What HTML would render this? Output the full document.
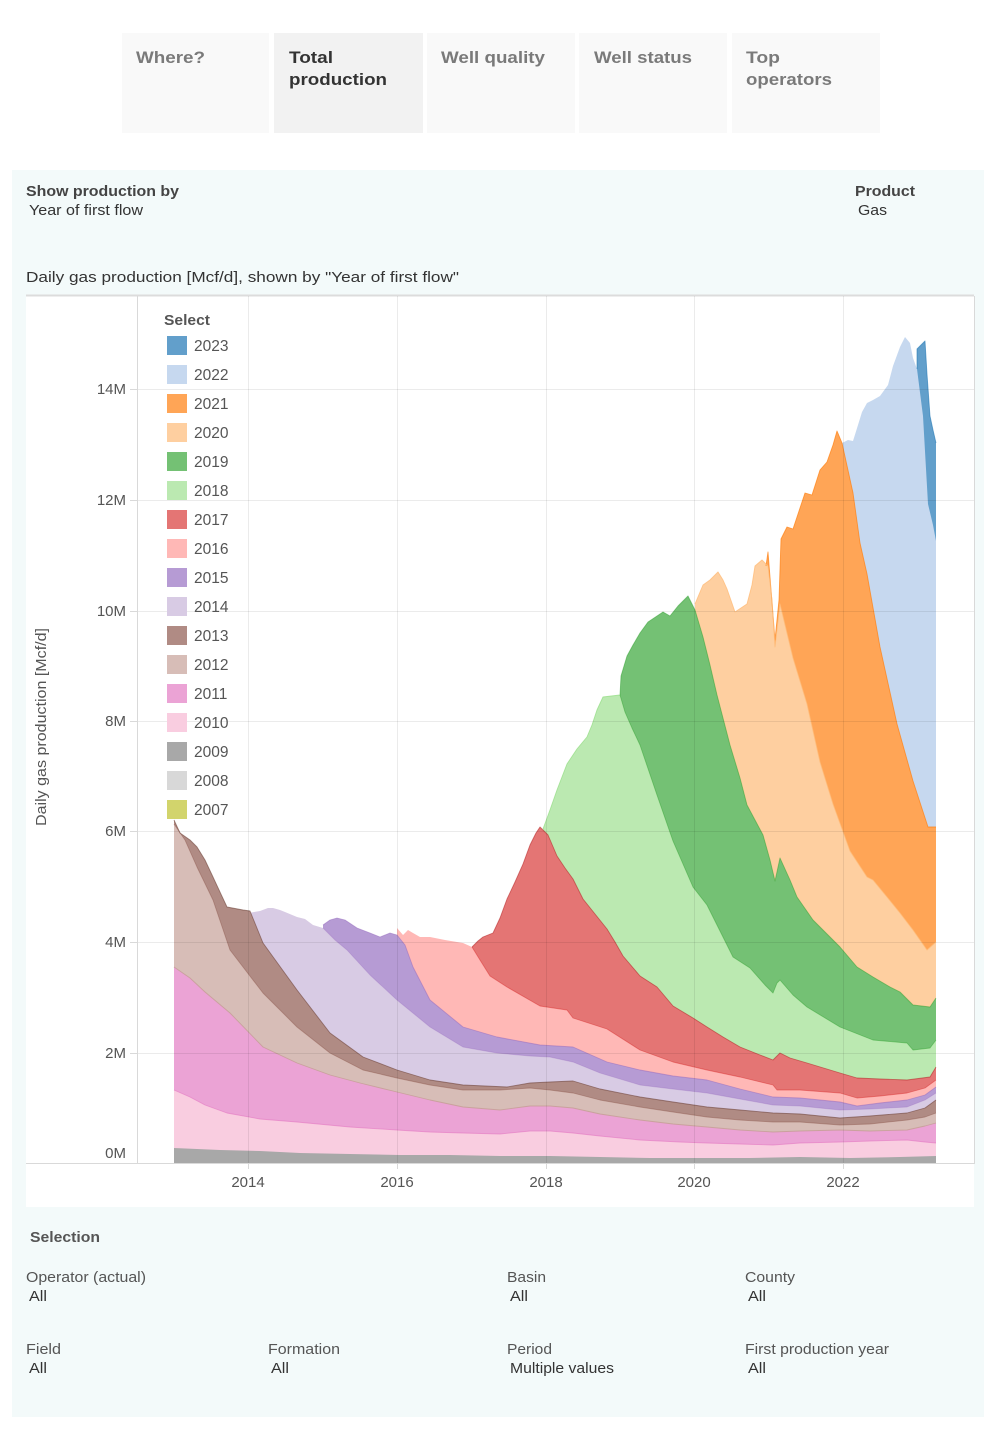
<!DOCTYPE html>
<html><head><meta charset="utf-8">
<style>
html,body{margin:0;padding:0;background:#fff;}
body{width:1000px;height:1435px;overflow:hidden;}
svg{display:block;}
text{font-family:"Liberation Sans",Arial,sans-serif;}
</style></head>
<body>
<svg width="1000" height="1435" viewBox="0 0 1000 1435" xmlns="http://www.w3.org/2000/svg">
<!-- tabs -->
<rect x="122" y="33" width="147" height="100" fill="#f9f9f9"/>
<rect x="274" y="33" width="149" height="100" fill="#f2f2f2"/>
<rect x="427" y="33" width="148" height="100" fill="#f9f9f9"/>
<rect x="579" y="33" width="148" height="100" fill="#f9f9f9"/>
<rect x="732" y="33" width="148" height="100" fill="#f9f9f9"/>
<g font-size="17" font-weight="bold">
<text x="136" y="63" fill="#7a7a7a" textLength="69" lengthAdjust="spacingAndGlyphs">Where?</text>
<text x="289" y="63" fill="#333" textLength="44" lengthAdjust="spacingAndGlyphs">Total</text>
<text x="289" y="85" fill="#333" textLength="98" lengthAdjust="spacingAndGlyphs">production</text>
<text x="441" y="63" fill="#7a7a7a" textLength="104" lengthAdjust="spacingAndGlyphs">Well quality</text>
<text x="594" y="63" fill="#7a7a7a" textLength="98" lengthAdjust="spacingAndGlyphs">Well status</text>
<text x="746" y="63" fill="#7a7a7a" textLength="34" lengthAdjust="spacingAndGlyphs">Top</text>
<text x="746" y="85" fill="#7a7a7a" textLength="86" lengthAdjust="spacingAndGlyphs">operators</text>
</g>

<!-- panel -->
<rect x="12" y="170" width="972" height="1247" fill="#f3fafa"/>
<g font-size="14.5">
<text x="26" y="196" fill="#444" font-weight="bold" textLength="153" lengthAdjust="spacingAndGlyphs">Show production by</text>
<text x="29" y="215" fill="#333" textLength="114" lengthAdjust="spacingAndGlyphs">Year of first flow</text>
<text x="855" y="196" fill="#444" font-weight="bold" textLength="60" lengthAdjust="spacingAndGlyphs">Product</text>
<text x="858" y="215" fill="#333" textLength="29" lengthAdjust="spacingAndGlyphs">Gas</text>
<text x="26" y="282" fill="#333" textLength="433" lengthAdjust="spacingAndGlyphs">Daily gas production [Mcf/d], shown by "Year of first flow"</text>
</g>

<!-- chart box -->
<rect x="26" y="295" width="948" height="912" fill="#fff"/>
<line x1="26" y1="295.5" x2="974" y2="295.5" stroke="#dcdcdc" stroke-width="2"/>

<!-- areas: painted top cumulative first -->
<g stroke="none">
<polygon fill="#629fcb" points="917,349 925,341 927,374 930,416 933,430 936,443 936,1163 917,1163"/>
<polygon fill="#c6d8ef" points="838,433 842,443 848,440 853,441 858,425 862,412 867,403 873,400 880,396 888,385 893,366 900,347 905,337 910,343 913,358 917,369 923,416 928,504 933,525 936,541 936,1163 838,1163"/>
<polygon fill="#ffa556" points="766,566 768,552 775,640 779,600 781,539 787,527 793,529 805,493 812,495 820,470 827,462 833,445 837,431 842,443 853,493 860,543 867,574 880,647 897,724 913,781 928,827 936,827 936,1163 766,1163"/>
<polygon fill="#fecfa0" points="695,604 703,585 710,580 718,572 723,580 727,589 735,612 741,608 747,604 752,585 755,566 762,560 768,566 772,600 775,647 780,604 793,658 807,704 820,762 833,804 850,851 867,877 873,880 887,897 900,913 913,930 927,950 936,942 936,1163 695,1163"/>
<polygon fill="#74c174" points="620,695 621,676 627,656 633,645 640,633 648,622 657,616 663,612 670,616 678,606 688,596 695,610 703,637 710,665 717,695 730,745 740,778 747,805 763,835 770,860 775,881 780,858 790,880 797,897 813,920 827,934 840,947 857,967 873,977 890,987 900,992 913,1005 930,1007 936,998 936,1163 620,1163"/>
<polygon fill="#bbe9b1" points="543,829 550,810 557,790 567,764 577,749 587,737 592,725 597,710 603,697 620,695 625,712 632,728 640,745 657,795 673,841 693,887 707,905 723,937 733,957 750,968 765,985 773,993 777,983 780,980 793,995 807,1007 840,1027 873,1040 907,1043 913,1050 930,1048 936,1040 936,1163 543,1163"/>
<polygon fill="#e47574" points="472,947 478,941 483,937 493,933 500,918 507,899 515,882 523,864 530,845 536,833 540,827 548,835 557,856 565,868 573,879 583,899 595,914 607,929 615,942 623,956 640,976 657,987 673,1006 693,1018 707,1027 723,1037 740,1047 760,1055 773,1060 780,1053 790,1058 807,1063 840,1073 857,1078 880,1079 907,1080 930,1077 936,1067 936,1163 472,1163"/>
<polygon fill="#ffb8b6" points="397,928 403,935 408,930 413,933 420,937 430,937 445,940 463,943 472,947 480,960 490,976 507,987 540,1006 567,1010 573,1018 607,1029 640,1050 673,1062 707,1070 740,1077 773,1085 777,1090 800,1090 840,1093 857,1098 880,1096 907,1093 925,1088 936,1080 936,1163 397,1163"/>
<polygon fill="#b69bd4" points="323,925 330,920 337,918 345,920 357,928 370,933 380,937 390,933 397,935 405,945 413,967 430,1000 463,1027 497,1037 540,1045 573,1047 607,1062 640,1070 673,1076 707,1080 740,1089 773,1097 800,1098 840,1102 857,1106 880,1103 907,1100 925,1095 936,1087 936,1163 323,1163"/>
<polygon fill="#d8cbe4" points="248,913 260,911 268,908 273,908 280,910 285,912 297,917 305,919 313,925 323,928 335,940 347,950 370,975 397,1000 430,1027 463,1047 497,1053 530,1056 550,1057 573,1062 600,1073 640,1085 673,1089 707,1093 740,1099 773,1105 800,1106 840,1110 870,1109 907,1107 925,1100 936,1093 936,1163 248,1163"/>
<polygon fill="#b08b84" points="174,820 180,833 190,840 197,847 205,860 213,877 227,907 243,910 250,911 263,943 297,990 330,1033 363,1057 397,1070 430,1080 463,1085 507,1087 530,1083 550,1082 573,1081 600,1089 640,1097 673,1102 707,1107 740,1110 773,1113 800,1114 840,1118 870,1116 907,1113 925,1108 936,1100 936,1163 174,1163"/>
<polygon fill="#d7bdb7" points="174,824 185,840 197,867 213,900 230,950 263,993 297,1027 330,1053 363,1070 397,1078 430,1085 463,1090 500,1090 530,1088 550,1090 573,1093 600,1100 640,1107 673,1112 707,1117 740,1120 773,1122 800,1122 840,1125 870,1124 907,1120 925,1117 936,1113 936,1163 174,1163"/>
<polygon fill="#eba3d5" points="174,967 190,978 205,992 230,1013 263,1047 297,1063 330,1075 360,1083 397,1092 430,1100 463,1107 500,1110 530,1106 550,1106 573,1108 600,1114 640,1120 673,1124 707,1127 740,1130 773,1132 800,1131 840,1130 870,1131 907,1130 925,1126 936,1123 936,1163 174,1163"/>
<polygon fill="#f9cde0" points="174,1090 190,1097 205,1105 227,1113 260,1119 297,1122 350,1127 397,1130 430,1132 463,1133 500,1134 530,1131 550,1131 573,1133 600,1136 640,1140 680,1142 707,1143 740,1144 773,1145 800,1143 840,1142 870,1141 907,1140 925,1142 936,1143 936,1163 174,1163"/>
<polygon fill="#a8a8a8" points="174,1148 220,1150 260,1151 300,1153 350,1154 400,1155 450,1155 500,1156 550,1156 600,1157 650,1158 700,1158 750,1158 800,1157 850,1158 900,1157 936,1156 936,1163 174,1163"/>
</g>

<!-- outlines -->
<g fill="none" stroke-width="0.9" stroke-linejoin="round">
<polyline stroke="#1f77b4" stroke-opacity="0.6" points="917,369 917,349 925,341 927,374 930,416 933,430 936,443"/>
<polyline stroke="#ff7f0e" stroke-opacity="0.7" points="766,566 768,552 775,640 779,600 781,539 787,527 793,529 805,493 812,495 820,470 827,462 833,445 837,431 842,443 853,493 860,543 867,574 880,647 897,724 913,781 928,827 936,827"/>
<polyline stroke="#ffbb78" stroke-opacity="0.8" points="695,604 703,585 710,580 718,572 723,580 727,589 735,612 741,608 747,604 752,585 755,566 762,560 768,566 772,600 775,647 780,604 793,658 807,704 820,762 833,804 850,851 867,877 873,880 887,897 900,913 913,930 927,950 936,942"/>
<polyline stroke="#2ca02c" stroke-opacity="0.5" points="620,695 621,676 627,656 633,645 640,633 648,622 657,616 663,612 670,616 678,606 688,596 695,610 703,637 710,665 717,695 730,745 740,778 747,805 763,835 770,860 775,881 780,858 790,880 797,897 813,920 827,934 840,947 857,967 873,977 890,987 900,992 913,1005 930,1007 936,998"/>
<polyline stroke="#98df8a" stroke-opacity="0.8" points="543,829 550,810 557,790 567,764 577,749 587,737 592,725 597,710 603,697 620,695"/>
<polyline stroke="#2ca02c" stroke-opacity="0.45" points="620,695 625,712 632,728 640,745 657,795 673,841 693,887 707,905 723,937 733,957 750,968 765,985 773,993 777,983 780,980 793,995 807,1007 840,1027 873,1040 907,1043 913,1050 930,1048 936,1040"/>
<polyline stroke="#b21f20" stroke-opacity="0.55" points="472,947 478,941 483,937 493,933 500,918 507,899 515,882 523,864 530,845 536,833 540,827 548,835 557,856 565,868 573,879 583,899 595,914 607,929 615,942 623,956 640,976 657,987 673,1006 693,1018 707,1027 723,1037 740,1047 760,1055 773,1060 780,1053 790,1058 807,1063 840,1073 857,1078 880,1079 907,1080 930,1077 936,1067"/>
<polyline stroke="#d62728" stroke-opacity="0.45" points="472,947 480,960 490,976 507,987 540,1006 567,1010 573,1018 607,1029 640,1050 673,1062 707,1070 740,1077 773,1085 777,1090 800,1090 840,1093 857,1098 880,1096 907,1093 925,1088 936,1080"/>
<polyline stroke="#9467bd" stroke-opacity="0.5" points="323,925 330,920 337,918 345,920 357,928 370,933 380,937 390,933 397,935 405,945 413,967 430,1000 463,1027 497,1037 540,1045 573,1047 607,1062 640,1070 673,1076 707,1080 740,1089 773,1097 800,1098 840,1102 857,1106 880,1103 907,1100 925,1095 936,1087"/>
<polyline stroke="#9467bd" stroke-opacity="0.3" points="323,928 335,940 347,950 370,975 397,1000 430,1027 463,1047 497,1053 530,1056 550,1057 573,1062 600,1073 640,1085 673,1089 707,1093 740,1099 773,1105 800,1106 840,1110 870,1109 907,1107 925,1100 936,1093"/>
<polyline stroke="#6e4238" stroke-opacity="0.6" points="174,820 180,833 190,840 197,847 205,860 213,877 227,907 243,910 250,911 263,943 297,990 330,1033 363,1057 397,1070 430,1080 463,1085 507,1087 530,1083 550,1082 573,1081 600,1089 640,1097 673,1102 707,1107 740,1110 773,1113 800,1114 840,1118 870,1116 907,1113 925,1108 936,1100"/>
<polyline stroke="#8c564b" stroke-opacity="0.45" points="174,824 185,840 197,867 213,900 230,950 263,993 297,1027 330,1053 363,1070 397,1078 430,1085 463,1090 500,1090 530,1088 550,1090 573,1093 600,1100 640,1107 673,1112 707,1117 740,1120 773,1122 800,1122 840,1125 870,1124 907,1120 925,1117 936,1113"/>
<polyline stroke="#c49c94" stroke-opacity="0.8" points="174,967 190,978 205,992 230,1013 263,1047 297,1063 330,1075 360,1083 397,1092 430,1100 463,1107 500,1110 530,1106 550,1106 573,1108 600,1114 640,1120 673,1124 707,1127 740,1130 773,1132 800,1131 840,1130 870,1131 907,1130 925,1126 936,1123"/>
<polyline stroke="#e377c2" stroke-opacity="0.6" points="174,1090 190,1097 205,1105 227,1113 260,1119 297,1122 350,1127 397,1130 430,1132 463,1133 500,1134 530,1131 550,1131 573,1133 600,1136 640,1140 680,1142 707,1143 740,1144 773,1145 800,1143 840,1142 870,1141 907,1140 925,1142 936,1143"/>
</g>

<!-- gridlines -->
<g stroke="#000" stroke-opacity="0.08" stroke-width="1">
<line x1="137" y1="389.5" x2="974" y2="389.5"/>
<line x1="137" y1="500.5" x2="974" y2="500.5"/>
<line x1="137" y1="611.5" x2="974" y2="611.5"/>
<line x1="137" y1="721.5" x2="974" y2="721.5"/>
<line x1="137" y1="831.5" x2="974" y2="831.5"/>
<line x1="137" y1="942.5" x2="974" y2="942.5"/>
<line x1="137" y1="1053.5" x2="974" y2="1053.5"/>
<line x1="248.5" y1="296" x2="248.5" y2="1163"/>
<line x1="397.5" y1="296" x2="397.5" y2="1163"/>
<line x1="546.5" y1="296" x2="546.5" y2="1163"/>
<line x1="694.5" y1="296" x2="694.5" y2="1163"/>
<line x1="843.5" y1="296" x2="843.5" y2="1163"/>
</g>
<!-- axes -->
<g stroke="#d9d9d9" stroke-width="1">
<line x1="137.5" y1="296" x2="137.5" y2="1163"/>
<line x1="974.5" y1="296" x2="974.5" y2="1163"/>
<line x1="26" y1="1163.5" x2="975" y2="1163.5"/>
<line x1="130" y1="389.5" x2="137" y2="389.5"/>
<line x1="130" y1="500.5" x2="137" y2="500.5"/>
<line x1="130" y1="611.5" x2="137" y2="611.5"/>
<line x1="130" y1="721.5" x2="137" y2="721.5"/>
<line x1="130" y1="831.5" x2="137" y2="831.5"/>
<line x1="130" y1="942.5" x2="137" y2="942.5"/>
<line x1="130" y1="1053.5" x2="137" y2="1053.5"/>
<line x1="248.5" y1="1164" x2="248.5" y2="1169"/>
<line x1="397.5" y1="1164" x2="397.5" y2="1169"/>
<line x1="546.5" y1="1164" x2="546.5" y2="1169"/>
<line x1="694.5" y1="1164" x2="694.5" y2="1169"/>
<line x1="843.5" y1="1164" x2="843.5" y2="1169"/>
</g>

<!-- y labels -->
<g font-size="15" fill="#555" text-anchor="end">
<text x="126" y="394">14M</text>
<text x="126" y="505">12M</text>
<text x="126" y="616">10M</text>
<text x="126" y="726">8M</text>
<text x="126" y="836">6M</text>
<text x="126" y="947">4M</text>
<text x="126" y="1058">2M</text>
<text x="126" y="1158">0M</text>
</g>
<text transform="translate(46,727) rotate(-90)" font-size="14.5" fill="#555" text-anchor="middle" textLength="198" lengthAdjust="spacingAndGlyphs">Daily gas production [Mcf/d]</text>
<!-- x labels -->
<g font-size="15" fill="#555" text-anchor="middle">
<text x="248" y="1187">2014</text>
<text x="397" y="1187">2016</text>
<text x="546" y="1187">2018</text>
<text x="694" y="1187">2020</text>
<text x="843" y="1187">2022</text>
</g>

<!-- legend -->
<text x="164" y="325" font-size="14.5" font-weight="bold" fill="#555" textLength="46" lengthAdjust="spacingAndGlyphs">Select</text>
<g>
<rect x="167" y="336" width="20" height="19" fill="#629fcb"/>
<rect x="167" y="365" width="20" height="19" fill="#c6d8ef"/>
<rect x="167" y="394" width="20" height="19" fill="#ffa556"/>
<rect x="167" y="423" width="20" height="19" fill="#fecfa0"/>
<rect x="167" y="452" width="20" height="19" fill="#74c174"/>
<rect x="167" y="481" width="20" height="19" fill="#bbe9b1"/>
<rect x="167" y="510" width="20" height="19" fill="#e47574"/>
<rect x="167" y="539" width="20" height="19" fill="#ffb8b6"/>
<rect x="167" y="568" width="20" height="19" fill="#b69bd4"/>
<rect x="167" y="597" width="20" height="19" fill="#d8cbe4"/>
<rect x="167" y="626" width="20" height="19" fill="#b08b84"/>
<rect x="167" y="655" width="20" height="19" fill="#d7bdb7"/>
<rect x="167" y="684" width="20" height="19" fill="#eba3d5"/>
<rect x="167" y="713" width="20" height="19" fill="#f9cde0"/>
<rect x="167" y="742" width="20" height="19" fill="#a8a8a8"/>
<rect x="167" y="771" width="20" height="19" fill="#d8d8d8"/>
<rect x="167" y="800" width="20" height="19" fill="#d2d46c"/>
</g>
<g font-size="15.5" fill="#555">
<text x="194" y="351">2023</text>
<text x="194" y="380">2022</text>
<text x="194" y="409">2021</text>
<text x="194" y="438">2020</text>
<text x="194" y="467">2019</text>
<text x="194" y="496">2018</text>
<text x="194" y="525">2017</text>
<text x="194" y="554">2016</text>
<text x="194" y="583">2015</text>
<text x="194" y="612">2014</text>
<text x="194" y="641">2013</text>
<text x="194" y="670">2012</text>
<text x="194" y="699">2011</text>
<text x="194" y="728">2010</text>
<text x="194" y="757">2009</text>
<text x="194" y="786">2008</text>
<text x="194" y="815">2007</text>
</g>

<!-- selection -->
<text x="30" y="1242" font-size="14.5" font-weight="bold" fill="#555" textLength="70" lengthAdjust="spacingAndGlyphs">Selection</text>
<g font-size="14.5" fill="#555">
<text x="26" y="1282" textLength="120" lengthAdjust="spacingAndGlyphs">Operator (actual)</text>
<text x="507" y="1282" textLength="39" lengthAdjust="spacingAndGlyphs">Basin</text>
<text x="745" y="1282" textLength="50" lengthAdjust="spacingAndGlyphs">County</text>
<text x="26" y="1354" textLength="35" lengthAdjust="spacingAndGlyphs">Field</text>
<text x="268" y="1354" textLength="72" lengthAdjust="spacingAndGlyphs">Formation</text>
<text x="507" y="1354" textLength="45" lengthAdjust="spacingAndGlyphs">Period</text>
<text x="745" y="1354" textLength="144" lengthAdjust="spacingAndGlyphs">First production year</text>
</g>
<g font-size="14.5" fill="#333">
<text x="29" y="1301" textLength="18" lengthAdjust="spacingAndGlyphs">All</text>
<text x="510" y="1301" textLength="18" lengthAdjust="spacingAndGlyphs">All</text>
<text x="748" y="1301" textLength="18" lengthAdjust="spacingAndGlyphs">All</text>
<text x="29" y="1373" textLength="18" lengthAdjust="spacingAndGlyphs">All</text>
<text x="271" y="1373" textLength="18" lengthAdjust="spacingAndGlyphs">All</text>
<text x="510" y="1373" textLength="104" lengthAdjust="spacingAndGlyphs">Multiple values</text>
<text x="748" y="1373" textLength="18" lengthAdjust="spacingAndGlyphs">All</text>
</g>
</svg>
</body></html>
